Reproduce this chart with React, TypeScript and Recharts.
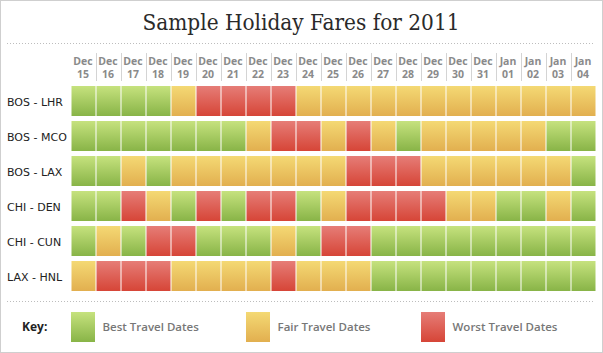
import React from 'react';
import { BarChart, Bar, XAxis, YAxis, Cell } from 'recharts';

const months = ['Dec', 'Dec', 'Dec', 'Dec', 'Dec', 'Dec', 'Dec', 'Dec', 'Dec', 'Dec', 'Dec', 'Dec', 'Dec', 'Dec', 'Dec', 'Dec', 'Dec', 'Jan', 'Jan', 'Jan', 'Jan'];
const days = ['15', '16', '17', '18', '19', '20', '21', '22', '23', '24', '25', '26', '27', '28', '29', '30', '31', '01', '02', '03', '04'];
const routes = ['BOS - LHR', 'BOS - MCO', 'BOS - LAX', 'CHI - DEN', 'CHI - CUN', 'LAX - HNL'];

// B = best, F = fair, W = worst
const bosLhr = ['B', 'B', 'B', 'B', 'F', 'W', 'W', 'W', 'W', 'F', 'F', 'F', 'F', 'F', 'F', 'F', 'F', 'F', 'F', 'F', 'F'];
const bosMco = ['B', 'B', 'B', 'B', 'B', 'B', 'B', 'F', 'W', 'W', 'F', 'W', 'F', 'B', 'F', 'F', 'F', 'F', 'F', 'B', 'B'];
const bosLax = ['B', 'B', 'F', 'B', 'F', 'F', 'F', 'F', 'F', 'F', 'F', 'W', 'W', 'W', 'F', 'F', 'F', 'F', 'F', 'F', 'B'];
const chiDen = ['B', 'B', 'W', 'F', 'B', 'W', 'B', 'W', 'W', 'B', 'F', 'W', 'W', 'W', 'W', 'F', 'F', 'B', 'B', 'F', 'B'];
const chiCun = ['B', 'F', 'B', 'W', 'W', 'B', 'B', 'B', 'F', 'B', 'W', 'W', 'B', 'B', 'B', 'B', 'B', 'B', 'B', 'B', 'B'];
const laxHnl = ['F', 'W', 'W', 'W', 'F', 'F', 'F', 'F', 'W', 'F', 'F', 'F', 'B', 'B', 'B', 'B', 'B', 'B', 'B', 'B', 'B'];
const ratings = [bosLhr, bosMco, bosLax, chiDen, chiCun, laxHnl];

const legendKeys = ['B', 'F', 'W'];
const legendLabels = ['Best Travel Dates', 'Fair Travel Dates', 'Worst Travel Dates'];

const FILL: Record<string, string> = { B: 'url(#gBest)', F: 'url(#gFair)', W: 'url(#gWorst)' };

const W = 603;
const H = 353;
const PLOT_LEFT = 70.5;
const PLOT_W = 525;
const BAND = PLOT_W / months.length;
const ROW_GAP = 5;

const data = months.map((m, i) => {
  const row: Record<string, any> = { key: m + ' ' + days[i] };
  routes.forEach((_, r) => {
    row['r' + r] = 1;
  });
  return row;
});

const CellRect = (props: any) => {
  const { x, y, width, height, fill } = props;
  const top = Math.min(y, y + height);
  const h = Math.abs(height);
  return <rect x={x} y={top + ROW_GAP / 2} width={width} height={Math.max(0, h - ROW_GAP)} fill={fill} />;
};

const HeaderTick = (props: any) => {
  const { x, payload, index } = props;
  const [m, d] = String(payload.value).split(' ');
  return (
    <g>
      {index > 0 && (
        <line x1={x - BAND / 2 + 1} x2={x - BAND / 2 + 1} y1={53} y2={81} stroke="#d4d4d4" strokeWidth={1} />
      )}
      <text x={x} y={64.5} textAnchor="middle" fontFamily="'Open Sans', sans-serif" fontWeight={700} fontSize={10.5} fill="#8a8a8a">
        {m}
      </text>
      <text x={x} y={78} textAnchor="middle" fontFamily="'Open Sans', sans-serif" fontWeight={700} fontSize={10.5} fill="#8a8a8a">
        {d}
      </text>
    </g>
  );
};

const RouteTick = (props: any) => {
  const { y, payload } = props;
  const label = routes[Math.floor(payload.value)];
  return (
    <text x={7} y={y + 4.5} textAnchor="start" fontFamily="'DejaVu Sans', sans-serif" fontSize={11} fill="#222">
      {label}
    </text>
  );
};

export default function App() {
  return (
    <div style={{ position: 'absolute', left: 0, top: 0, width: W, height: H, background: '#fff' }}>
      <svg width={0} height={0} style={{ position: 'absolute' }}>
        <defs>
          <linearGradient id="gBest" x1="0" y1="0" x2="0" y2="1">
            <stop offset="0%" stopColor="#c6e27e" />
            <stop offset="100%" stopColor="#88b447" />
          </linearGradient>
          <linearGradient id="gFair" x1="0" y1="0" x2="0" y2="1">
            <stop offset="0%" stopColor="#f4d974" />
            <stop offset="100%" stopColor="#e2af4f" />
          </linearGradient>
          <linearGradient id="gWorst" x1="0" y1="0" x2="0" y2="1">
            <stop offset="0%" stopColor="#e67d77" />
            <stop offset="100%" stopColor="#d64537" />
          </linearGradient>
        </defs>
      </svg>
      <BarChart
        width={W}
        height={H}
        data={data}
        margin={{ top: 53.5, right: W - PLOT_LEFT - PLOT_W, bottom: 59.5, left: 0 }}
        barSize={BAND - 1}
      >
        <XAxis
          dataKey="key"
          orientation="top"
          height={30}
          axisLine={false}
          tickLine={false}
          interval={0}
          tick={<HeaderTick />}
        />
        <YAxis
          type="number"
          domain={[0, routes.length]}
          reversed
          ticks={routes.map((_, i) => i + 0.5)}
          width={PLOT_LEFT}
          axisLine={false}
          tickLine={false}
          interval={0}
          tick={<RouteTick />}
        />
        {routes.map((r, ri) => (
          <Bar key={r} dataKey={'r' + ri} stackId="s" isAnimationActive={false} shape={<CellRect />}>
            {ratings[ri].map((v, i) => (
              <Cell key={i} fill={FILL[v]} />
            ))}
          </Bar>
        ))}
      </BarChart>
      <svg width={W} height={H} style={{ position: 'absolute', left: 0, top: 0, pointerEvents: 'none' }}>
        <text
          x={301}
          y={29.5}
          textAnchor="middle"
          fontFamily="'DejaVu Serif Condensed', 'DejaVu Serif', serif"
          fontStretch="condensed"
          fontSize={22}
          fill="#2a2a2a"
          textLength={317}
          lengthAdjust="spacingAndGlyphs"
        >
          Sample Holiday Fares for 2011
        </text>
        <line x1={7} x2={595} y1={43.5} y2={43.5} stroke="#bdbdbd" strokeDasharray="1 2" />
        <line x1={7} x2={595} y1={301.5} y2={301.5} stroke="#bdbdbd" strokeDasharray="1 2" />
        <text x={22} y={331} fontFamily="'Open Sans', sans-serif" fontWeight={700} fontSize={12} fill="#222">
          Key:
        </text>
        {legendKeys.map((k, i) => (
          <g key={k}>
            <rect x={71 + i * 175} y={312} width={24} height={30} fill={FILL[k]} />
            <text x={102.5 + i * 175} y={331} fontFamily="'Open Sans', sans-serif" fontWeight={600} fontSize={11.5} fill="#777">
              {legendLabels[i]}
            </text>
          </g>
        ))}
      </svg>
      <div
        style={{
          position: 'absolute',
          left: 0,
          top: 0,
          width: W,
          height: H,
          boxSizing: 'border-box',
          border: '1px solid #cfcfcf',
          pointerEvents: 'none',
        }}
      />
    </div>
  );
}
